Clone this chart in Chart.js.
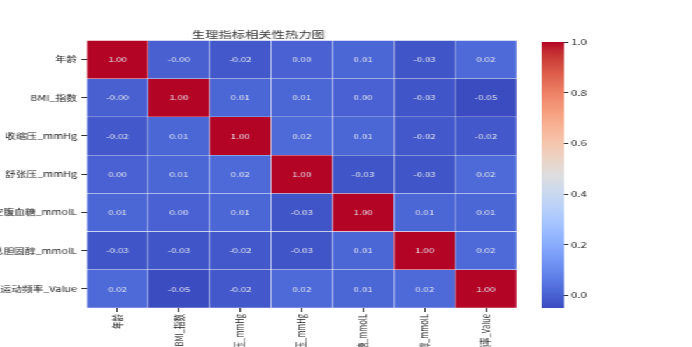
<!DOCTYPE html>
<html><head><meta charset="utf-8">
<script src="https://cdn.jsdelivr.net/npm/chart.js@4/dist/chart.umd.min.js"></script>
<style>
html,body{margin:0;padding:0;background:#fff;overflow:hidden;width:692px;height:347px;}
#wrap{position:absolute;left:0;top:0;width:494px;height:347px;transform:scaleX(1.4);transform-origin:0 0;}
#c1{position:absolute;left:0;top:0;}
#c2{position:absolute;left:372px;top:0;}
</style></head><body>
<div id="wrap"><canvas id="c1" width="431" height="347"></canvas><canvas id="c2" width="122" height="347"></canvas></div>
<script>
// Data
const variables = ['年龄','BMI_指数','收缩压_mmHg','舒张压_mmHg','空腹血糖_mmolL','总胆固醇_mmolL','运动频率_Value'];
const corrAge      = [1.00, -0.004, -0.02, 0.00, 0.01, -0.03, 0.02];
const corrBMI      = [-0.004, 1.00, 0.01, 0.01, 0.00, -0.03, -0.05];
const corrSystolic = [-0.02, 0.01, 1.00, 0.02, 0.01, -0.02, -0.02];
const corrDiastolic= [0.00, 0.01, 0.02, 1.00, -0.03, -0.03, 0.02];
const corrGlucose  = [0.01, 0.00, 0.01, -0.03, 1.00, 0.01, 0.01];
const corrChol     = [-0.03, -0.03, -0.02, -0.03, 0.01, 1.00, 0.02];
const corrExercise = [0.02, -0.05, -0.02, 0.02, 0.01, 0.02, 1.00];
const colorbarTicks = [0.0, 0.2, 0.4, 0.6, 0.8, 1.0];
const vmin = -0.05, vmax = 1.0;
const title = '生理指标相关性热力图';

const matrix = [corrAge, corrBMI, corrSystolic, corrDiastolic, corrGlucose, corrChol, corrExercise];

// coolwarm colormap
const CW = [[59,76,192],[68,90,204],[77,104,215],[87,117,225],[98,130,234],[108,142,241],[119,154,247],[130,165,251],[141,176,254],[152,185,255],[163,194,255],[174,201,253],[184,208,249],[194,213,244],[204,217,238],[213,219,230],[221,221,221],[229,216,209],[236,211,197],[241,204,184],[245,196,172],[247,187,159],[247,177,147],[247,166,134],[244,154,123],[241,141,111],[236,127,99],[229,112,89],[222,96,77],[213,80,66],[203,62,56],[192,40,47],[180,4,38]];
function cmap(t){
  t=Math.max(0,Math.min(1,t));
  const p=t*(CW.length-1), i=Math.min(CW.length-2,Math.floor(p)), f=p-i;
  const c=CW[i].map((v,k)=>Math.round(v+(CW[i+1][k]-v)*f));
  return `rgb(${c[0]},${c[1]},${c[2]})`;
}
const FONT = '"Noto Sans CJK SC","Noto Sans",sans-serif';

const annot = {
  id:'annot',
  afterDatasetsDraw(chart){
    const ctx=chart.ctx; ctx.save();
    ctx.font = `7px ${FONT}`; ctx.fillStyle='#e6e8f2'; ctx.textAlign='center'; ctx.textBaseline='middle';
    chart.data.datasets.forEach((ds,i)=>{
      chart.getDatasetMeta(i).data.forEach((bar,j)=>{
        ctx.fillText(matrix[i][j].toFixed(2), bar.x, (bar.y+bar.base)/2);
      });
    });
    ctx.restore();
  }
};

new Chart(document.getElementById('c1'), {
  type:'bar',
  data:{
    labels: variables,
    datasets: matrix.map((row,i)=>({
      label: variables[i],
      data: row.map(()=>1),
      backgroundColor: row.map(v=>cmap((v-vmin)/(vmax-vmin))),
      borderColor:'rgba(255,255,255,0.55)', borderWidth:0.5, borderSkipped:false,
      categoryPercentage:1, barPercentage:1
    }))
  },
  options:{
    responsive:false, animation:false,
    layout:{padding:{left:0,right:62,top:0,bottom:0}},
    plugins:{
      legend:{display:false}, tooltip:{enabled:false},
      title:{display:true, text:title, color:'#333', font:{family:FONT,size:9.5,weight:'normal'}, padding:{top:29,bottom:0}}
    },
    scales:{
      x:{type:'category', stacked:true, offset:true,
         grid:{offset:false, drawOnChartArea:false, color:'#333', tickLength:4},
         border:{display:false},
         ticks:{minRotation:90, maxRotation:90, autoSkip:false, color:'#222', padding:2, font:{family:FONT,size:7.5}},
         afterFit(s){s.height=39;}},
      y:{type:'linear', stacked:true, min:0, max:7, reverse:true,
         afterBuildTicks(s){s.ticks=variables.map((_,i)=>({value:i+0.5}));},
         grid:{drawOnChartArea:false, color:'#333', tickLength:4},
         border:{display:false},
         ticks:{color:'#222', padding:3, font:{family:FONT,size:7.7}, callback:(v,i)=>variables[i]},
         afterFit(s){s.width=62;}}
    }
  },
  plugins:[annot]
});

new Chart(document.getElementById('c2'), {
  type:'bar',
  data:{labels:[''], datasets:[{data:[[vmin,vmax]], categoryPercentage:1, barPercentage:1, borderWidth:0,
    backgroundColor:(c)=>{const ch=c.chart, a=ch.chartArea; if(!a) return null;
      const g=ch.ctx.createLinearGradient(0,a.bottom,0,a.top);
      CW.forEach((col,k)=>g.addColorStop(k/(CW.length-1),`rgb(${col[0]},${col[1]},${col[2]})`)); return g;}}]},
  options:{
    responsive:false, animation:false,
    layout:{padding:{left:15,right:0,top:42,bottom:39}},
    plugins:{legend:{display:false}, tooltip:{enabled:false}},
    scales:{
      x:{display:false},
      y:{position:'right', min:vmin, max:vmax,
         afterBuildTicks(s){s.ticks=colorbarTicks.map(v=>({value:v}));},
         grid:{drawOnChartArea:false, color:'#333', tickLength:3},
         border:{display:false},
         ticks:{color:'#222', padding:2, font:{family:FONT,size:8}, callback:(v)=>v.toFixed(1)},
         afterFit(s){s.width=91;}}
    }
  }
});
</script>
</body></html>
